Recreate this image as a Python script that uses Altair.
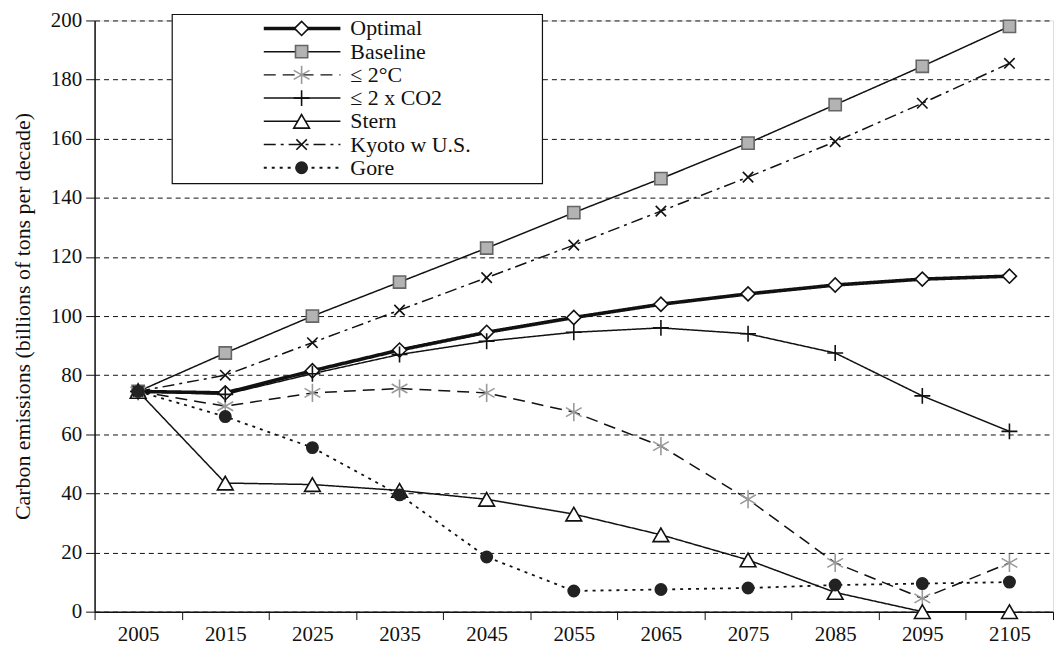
import altair as alt
import pandas as pd

years = ["2005", "2015", "2025", "2035", "2045", "2055", "2065", "2075", "2085", "2095", "2105"]
series = ["Optimal", "Baseline", "≤ 2°C", "≤ 2 x CO2", "Stern", "Kyoto w U.S.", "Gore"]

optimal = [74.5, 74, 81.5, 88.5, 94.5, 99.5, 104, 107.5, 110.5, 112.5, 113.5]
baseline = [74.5, 87.5, 100, 111.5, 123, 135, 146.5, 158.5, 171.5, 184.5, 198]
two_c = [74.5, 69.5, 74, 75.5, 74, 67.5, 56, 38, 16.5, 4.5, 16.5]
two_co2 = [74.5, 73.5, 80.5, 87, 91.5, 94.5, 96, 94, 87.5, 73, 61]
stern = [74.5, 43.5, 43, 41, 38, 33, 26, 17.5, 6.5, 0, 0]
kyoto = [74.5, 80, 91, 102, 113, 124, 135.5, 147, 159, 172, 185.5]
gore = [74.5, 66, 55.5, 39.5, 18.5, 7, 7.5, 8, 9, 9.5, 10]

values = [optimal, baseline, two_c, two_co2, stern, kyoto, gore]

rows = []
for s, vals in zip(series, values):
    for yr, v in zip(years, vals):
        rows.append({"year": yr, "value": v, "series": s})
df = pd.DataFrame(rows)
legend_df = pd.DataFrame({"series": series})

ASTER = "M0,-1L0,1M-0.87,-0.5L0.87,0.5M-0.87,0.5L0.87,-0.5"
PLUS = "M0,-1L0,1M-1,0L1,0"
XCROSS = "M-1,-1L1,1M-1,1L1,-1"

dashes = [[1, 0], [1, 0], [12, 7], [1, 0], [1, 0], [12, 5, 3, 5], [3, 5]]
widths = [3.6, 1.5, 1.5, 1.5, 1.5, 1.5, 1.8]
shapes = ["diamond", "square", ASTER, PLUS, "triangle-up", XCROSS, "circle"]
fills = ["white", "#b3b3b3", "transparent", "transparent", "white", "transparent", "#222222"]
strokes = ["#111111", "#666666", "#9a9a9a", "#111111", "#111111", "#111111", "#222222"]
sizes = [200, 150, 330, 256, 250, 110, 130]

FONT = "Liberation Serif"

dash_scale = alt.Scale(domain=series, range=dashes)
width_scale = alt.Scale(type="ordinal", domain=series, range=widths)
shape_scale = alt.Scale(domain=series, range=shapes)
fill_scale = alt.Scale(domain=series, range=fills)
stroke_scale = alt.Scale(domain=series, range=strokes)
size_scale = alt.Scale(type="ordinal", domain=series, range=sizes)

x_enc = alt.X("year:N", sort=years, title=None,
              axis=alt.Axis(labelAngle=0, tickBand="extent", labelFontSize=21, labelFont=FONT,
                            tickSize=8, tickColor="#111", domainColor="#111", labelColor="#111",
                            labelPadding=4, grid=False, domainWidth=1.5))
y_scale = alt.Scale(domain=[0, 200], nice=False)

lines = alt.Chart(df).mark_line(color="#111111").encode(
    x=x_enc,
    y=alt.Y("value:Q", scale=y_scale, title="Carbon emissions (billions of tons per decade)",
            axis=alt.Axis(values=list(range(0, 201, 20)), labelFontSize=21, labelFont=FONT,
                          titleFont=FONT, titleFontSize=22, titleFontWeight="normal", titleColor="#111",
                          labelColor="#111", tickSize=9, tickColor="#111", domainColor="#111",
                          labelPadding=4, domainWidth=1.5,
                          grid=True, gridDash=[5, 4], gridColor="#111", gridWidth=1, gridOpacity=1,
                          titlePadding=16)),
    strokeDash=alt.StrokeDash("series:N", scale=dash_scale, legend=None),
    strokeWidth=alt.StrokeWidth("series:N", scale=width_scale, legend=None),
)

points = alt.Chart(df).mark_point(filled=True, opacity=1, strokeWidth=1.6).encode(
    x=alt.X("year:N", sort=years),
    y=alt.Y("value:Q", scale=y_scale, axis=None),
    shape=alt.Shape("series:N", scale=shape_scale, legend=None),
    fill=alt.Fill("series:N", scale=fill_scale, legend=None),
    stroke=alt.Stroke("series:N", scale=stroke_scale, legend=None),
    size=alt.Size("series:N", scale=size_scale, legend=None),
)

box = alt.Chart(pd.DataFrame({"a": [0]})).mark_rect(fill="white", stroke="#111", strokeWidth=1.2).encode(
    x=alt.value(78), x2=alt.value(450), y=alt.value(-6), y2=alt.value(164)
)

leg_y = alt.Y("series:N", scale=alt.Scale(type="point", domain=series, range=[8, 148], padding=0), axis=None)

leg_lines = alt.Chart(legend_df).mark_rule(color="#111111").encode(
    x=alt.value(170), x2=alt.value(247), y=leg_y,
    strokeDash=alt.StrokeDash("series:N", scale=dash_scale, legend=None),
    strokeWidth=alt.StrokeWidth("series:N", scale=width_scale, legend=None),
)
leg_points = alt.Chart(legend_df).mark_point(filled=True, opacity=1, strokeWidth=1.6).encode(
    x=alt.value(208), y=leg_y,
    shape=alt.Shape("series:N", scale=shape_scale, legend=None),
    fill=alt.Fill("series:N", scale=fill_scale, legend=None),
    stroke=alt.Stroke("series:N", scale=stroke_scale, legend=None),
    size=alt.Size("series:N", scale=size_scale, legend=None),
)
leg_text = alt.Chart(legend_df).mark_text(align="left", baseline="middle", font=FONT, fontSize=22,
                                          color="#111").encode(
    x=alt.value(257), y=leg_y, text="series:N"
)

chart = alt.layer(lines, points, box, leg_lines, leg_points, leg_text).resolve_scale(
    y="independent"
).properties(
    width=963, height=594,
    autosize=alt.AutoSizeParams(type="none"),
    padding={"left": 87, "top": 11, "right": 2, "bottom": 36}
).configure_view(stroke="#111", strokeWidth=1.5).configure(background="white")

chart.save("out.html", embed_options={"renderer": "svg", "actions": False})
